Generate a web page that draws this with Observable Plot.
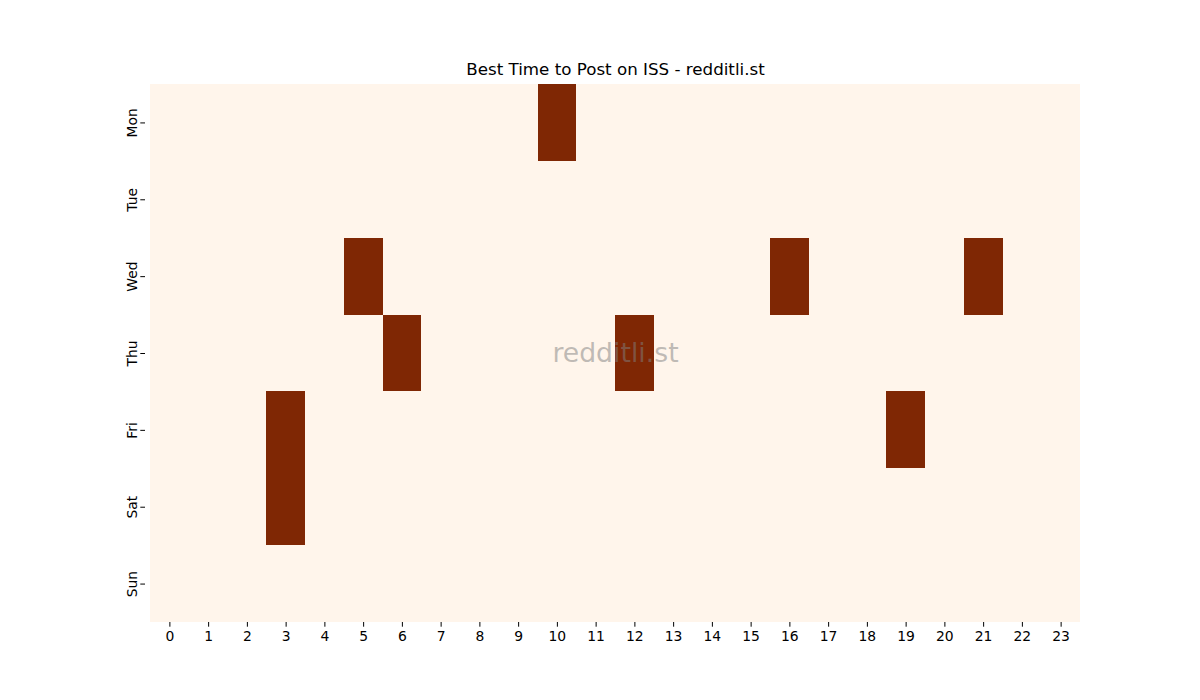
<!DOCTYPE html>
<html>
<head>
<meta charset="utf-8">
<script src="https://cdn.jsdelivr.net/npm/d3@7"></script>
<script src="https://cdn.jsdelivr.net/npm/@observablehq/plot@0.6"></script>
<style>
  html, body { margin: 0; padding: 0; background: #ffffff; overflow: hidden; }
  #chart svg { display: block; max-width: none !important; font-family: "DejaVu Sans", sans-serif; }
</style>
</head>
<body>
<div id="chart"></div>
<script>
const days = ["Mon", "Tue", "Wed", "Thu", "Fri", "Sat", "Sun"];
const hours = d3.range(0, 24);
// one row of 24 hourly values per weekday (1 = best time to post)
const mon = [0,0,0,0,0,0,0,0,0,0,1,0,0,0,0,0,0,0,0,0,0,0,0,0];
const tue = [0,0,0,0,0,0,0,0,0,0,0,0,0,0,0,0,0,0,0,0,0,0,0,0];
const wed = [0,0,0,0,0,1,0,0,0,0,0,0,0,0,0,0,1,0,0,0,0,1,0,0];
const thu = [0,0,0,0,0,0,1,0,0,0,0,0,1,0,0,0,0,0,0,0,0,0,0,0];
const fri = [0,0,0,1,0,0,0,0,0,0,0,0,0,0,0,0,0,0,0,1,0,0,0,0];
const sat = [0,0,0,1,0,0,0,0,0,0,0,0,0,0,0,0,0,0,0,0,0,0,0,0];
const sun = [0,0,0,0,0,0,0,0,0,0,0,0,0,0,0,0,0,0,0,0,0,0,0,0];
const rows = [mon, tue, wed, thu, fri, sat, sun];
const title = "Best Time to Post on ISS - redditli.st";
const watermark = "redditli.st";

const cells = [];
rows.forEach((r, i) => r.forEach((v, h) => cells.push({day: days[i], hour: h, value: v})));

const chart = Plot.plot({
  width: 1200,
  height: 700,
  marginLeft: 150,
  marginRight: 120,
  marginTop: 84,
  marginBottom: 78,
  style: {fontFamily: "DejaVu Sans, sans-serif", fontSize: "13.9px", color: "#000", maxWidth: "none"},
  x: {type: "band", domain: hours, padding: 0, round: false, label: null},
  y: {type: "band", domain: days, padding: 0, round: false, label: null},
  color: {type: "linear", domain: [0, 1], range: ["#fff5eb", "#7f2704"]},
  marks: [
    Plot.cell(cells, {x: "hour", y: "day", fill: "value", inset: 0, shapeRendering: "crispEdges"}),
    Plot.axisX({tickSize: 4.7, tickPadding: 4, fontSize: 13.9, label: null}),
    Plot.axisY({tickSize: 4.7, tickPadding: 4, tickRotate: -90, fontSize: 13.9, label: null, textAnchor: "middle", dx: -5}),
    Plot.text([watermark], {frameAnchor: "middle", fontSize: 26.7, fill: "#808080", fillOpacity: 0.5}),
    Plot.text([title], {frameAnchor: "top", lineAnchor: "middle", dy: -15, fontSize: 16.7, fill: "#000"})
  ]
});
document.getElementById("chart").appendChild(chart);
</script>
</body>
</html>
